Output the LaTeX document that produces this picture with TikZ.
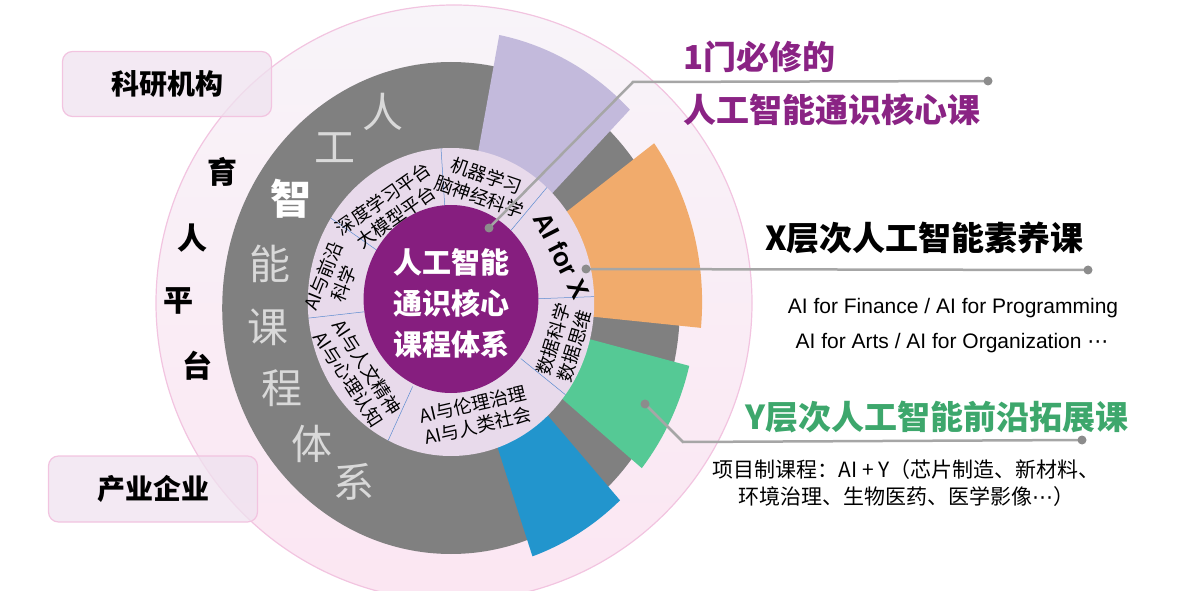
\documentclass[tikz,border=0pt]{standalone}
\usepackage{fontspec}
\usepackage{xcolor}
\usepackage{tikz}
\setmainfont{Noto Sans CJK SC}
\newfontfamily\latinfont{Liberation Sans}
\newfontfamily\symfont{DejaVu Sans}
\newcommand\fsz[2]{\fontsize{#1}{#2}\selectfont}
\definecolor{coreviolet}{HTML}{861E7F}
\definecolor{titleviolet}{HTML}{8A2384}
\definecolor{ringpink}{HTML}{E8DAEB}
\definecolor{petallav}{HTML}{C3BADC}
\definecolor{petalorange}{HTML}{F1AB6C}
\definecolor{petalgreen}{HTML}{55C995}
\definecolor{petalblue}{HTML}{2295CD}
\definecolor{discgray}{HTML}{808080}
\definecolor{arcgray}{HTML}{D9D9D9}
\definecolor{rimpink}{HTML}{F2C4E0}
\definecolor{boxfill}{HTML}{EFE2EF}
\definecolor{halotop}{HTML}{F8F4F9}
\definecolor{halobot}{HTML}{FBE6F2}
\definecolor{leadgray}{HTML}{A6A6A6}
\definecolor{dotgray}{HTML}{8C8C8C}
\definecolor{sepblue}{HTML}{5B8BD0}
\definecolor{ygreen}{HTML}{3DA76C}

\begin{document}
\begin{tikzpicture}[x=1pt, y=1pt,
    orgbox/.style={draw=rimpink, line width=1.2, fill=boxfill, fill opacity=0.75, text opacity=1, rounded corners=10, font=\bfseries\fsz{28}{30}},
    ringtext/.style={align=center, inner sep=0, font=\fsz{18.5}{22}},
    coretext/.style={align=center, text=white, inner sep=0, font=\bfseries\fsz{29}{41}},
    arcword/.style={text=arcgray, inner sep=0, font=\fsz{41}{41}},
    sideword/.style={inner sep=0, font=\bfseries\fsz{30}{30}},
    coursehead/.style={anchor=west, inner sep=0, font=\bfseries\fsz{33}{36}},
    engline/.style={inner sep=0, font=\latinfont\fsz{21}{24}},
    cnline/.style={inner sep=0, font=\fsz{21}{24}},
    dot/.style={circle, fill=dotgray, minimum size=9, inner sep=0},
    leader/.style={leadgray, line width=2.5}]
    \useasboundingbox (0,0) rectangle (1184,590);

    % halo and partner boxes
    \shade[top color=halotop, bottom color=halobot] (454,287) circle (298);
    \draw[rimpink, line width=1.2] (454,287) circle (298);
    \node[orgbox, minimum width=209, minimum height=65] (lab) at (167,506) {科研机构};
    \node[orgbox, minimum width=209, minimum height=66] (ind) at (153,101) {产业企业};

    \begin{scope}[shift={(451,288)}, xscale=0.93]
        \fill[discgray] (0,-6) circle (246);
        \foreach \a/\b/\r/\c in {45/79/272/petallav, -5.5/36/270/petalorange, -39/-14/264/petalgreen, -71/-47.5/269/petalblue}
            \fill[\c] (0,0) -- (\a:\r) arc[start angle=\a, end angle=\b, radius=\r] -- cycle;
        \fill[ringpink] (0,0) circle (154);
        \foreach \a in {94,48,2,-37,-116,-174,147}
            \draw[sepblue, line width=0.5] (\a:94) -- (\a:154);
        \fill[coreviolet] (0,3) circle (94);

        \node[ringtext, rotate=35] (deep) at (125:115) {深度学习平台\\大模型平台};
        \node[ringtext, rotate=-19] (brain) at (73.5:121) {机器学习\\脑神经科学};
        \node[inner sep=0, rotate=-63, font=\latinfont\bfseries\fsz{26}{28}] (aix) at (21.5:128) {AI for X};
        \node[ringtext, rotate=73] (data) at (-18.5:128) {数据科学\\数据思维};
        \node[ringtext, rotate=13] (ethic) at (-77:116) {AI与伦理治理\\AI与人类社会};
        \node[ringtext, rotate=-57] (human) at (-144.6:123) {AI与人文精神\\AI与心理认知};
        \node[ringtext, rotate=68] (front) at (170:128) {AI与前沿\\科学};
        \node[coretext] (core) at (0,-1) {人工智能\\通识核心\\课程体系};
    \end{scope}

    % words on the gray disc and on the halo
    \foreach \ch/\x/\y [count=\i] in {人/383/112, 工/335/148, 能/270/264, 课/268/327, 程/282/388, 体/312/444, 系/354/482}
        \node[arcword] (arc\i) at (\x,590-\y) {\ch};
    \node[arcword, text=white, font=\bfseries\fsz{41}{41}] (arczhi) at (291,391) {智};
    \foreach \ch/\x/\y [count=\i] in {育/222/172, 人/192/238, 平/178/301, 台/197/366}
        \node[sideword] (side\i) at (\x,590-\y) {\ch};

    % course levels
    \node[coursehead, text=titleviolet] (must1) at (683,533) {1门必修的};
    \node[coursehead, text=titleviolet] (must2) at (683,480) {人工智能通识核心课};
    \node[coursehead] (xhead) at (765,352) {X层次人工智能素养课};
    \node[engline] (xlist1) at (953,282) {AI for Finance / AI for Programming};
    \node[engline] (xlist2) at (952,247) {AI for Arts / AI for Organization {\symfont⋯}};
    \node[coursehead, text=ygreen] (yhead) at (745,173) {Y层次人工智能前沿拓展课};
    \node[cnline] (ylist1) at (906,120) {项目制课程：AI + Y（芯片制造、新材料、};
    \node[cnline] (ylist2) at (906,93) {环境治理、生物医药、医学影像{\symfont⋯}）};

    % leaders
    \coordinate (k1) at (633,508);
    \coordinate (k3) at (683,148);
    \draw[leader] (489,362) coordinate (p1) -- (k1) -- (988,509) coordinate (e1);
    \draw[leader] (586,321) coordinate (p2) -- (1088,320) coordinate (e2);
    \draw[leader] (645,186) coordinate (p3) -- (k3) -- (1082,150) coordinate (e3);
    \foreach \p in {p1,e1,p2,e2,p3,e3}
        \node[dot] at (\p) {};
\end{tikzpicture}
\end{document}
